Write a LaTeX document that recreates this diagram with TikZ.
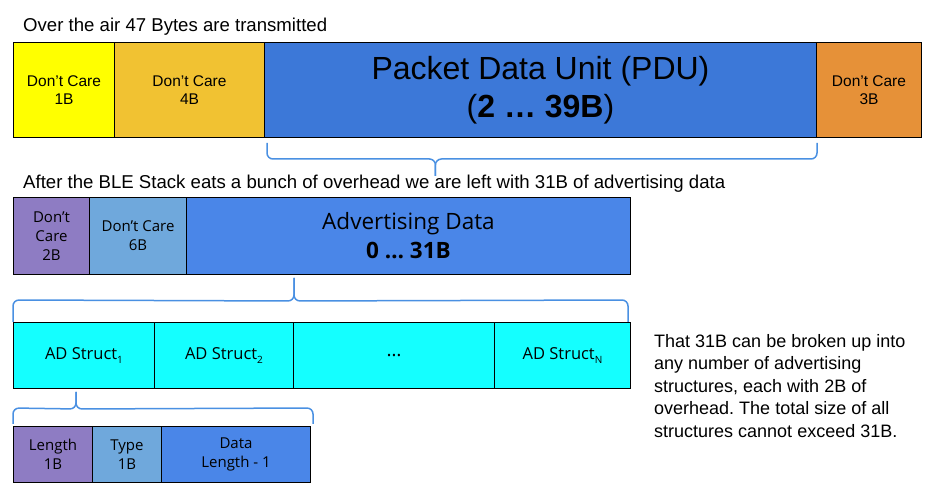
\documentclass[tikz,border=0pt]{standalone}
\usepackage{fontspec}
\setmainfont{Liberation Sans}
\newfontfamily\os{Open Sans}
\usetikzlibrary{calc}
\frenchspacing
\definecolor{cyel}{HTML}{FFFF00}
\definecolor{cgold}{HTML}{F1C232}
\definecolor{cpdu}{HTML}{3C78D8}
\definecolor{corange}{HTML}{E69138}
\definecolor{cpurple}{HTML}{8E7CC3}
\definecolor{clblue}{HTML}{6FA8DC}
\definecolor{cblue}{HTML}{4A86E8}
\definecolor{ccyan}{HTML}{14FFFF}
\definecolor{cbrace}{HTML}{4A90E2}
\newcommand{\fsz}[2]{\fontsize{#1}{#2}\selectfont}
\newcommand{\subn}[1]{\raisebox{-4.5pt}{\fsz{10}{10}#1}}
\tikzset{
  cell/.style={draw=black, line width=1pt, inner sep=0pt, anchor=north west, align=center, text=black},
  bracepath/.style={draw=cbrace, line width=1.5pt, rounded corners=6pt},
  caption/.style={inner sep=0pt, anchor=base west, text=black}
}
\begin{document}
\begin{tikzpicture}[x=1pt, y=-1pt]
\useasboundingbox (0,0) rectangle (930,494);
% captions
\node[caption, font=\fsz{18.6}{22}] (cap1) at (23,31.5) {Over the air 47 Bytes are transmitted};
\node[caption, font=\fsz{18.6}{22}] (cap2) at (23,189) {After the BLE Stack eats a bunch of overhead we are left with 31B of advertising data};
% row 1
\node[cell, fill=cyel, minimum width=101pt, minimum height=95pt, font=\fsz{15.5}{18}] (dc1) at (13,42) {Don’t Care\\1B};
\node[cell, fill=cgold, minimum width=150pt, minimum height=95pt, font=\fsz{15.5}{18}] (dc4) at (114,42) {Don’t Care\\4B};
\node[cell, fill=cpdu, minimum width=552pt, minimum height=95pt, font=\fsz{32}{38}] (pdu) at (264,42) {Packet Data Unit (PDU)\\(\textbf{2 … 39B})};
\node[cell, fill=corange, minimum width=105pt, minimum height=95pt, font=\fsz{15.5}{18}] (dc3) at (816,42) {Don’t Care\\3B};
% row 2
\node[cell, fill=cpurple, minimum width=76pt, minimum height=77pt, font=\os\fsz{15}{19}] (dc2) at (13,197) {Don’t\\Care\\2B};
\node[cell, fill=clblue, minimum width=97pt, minimum height=77pt, font=\os\fsz{15}{19}] (dc6) at (89,197) {Don’t Care\\6B};
\node[cell, fill=cblue, minimum width=444pt, minimum height=77pt, font=\os\fsz{22.5}{29}] (adv) at (186,197) {Advertising Data\\\textbf{0 … 31B}};
% row 3
\node[cell, fill=ccyan, minimum width=141pt, minimum height=66pt, font=\os\fsz{16.5}{20}] (s1) at (13,322) {AD Struct\subn{1}};
\node[cell, fill=ccyan, minimum width=139pt, minimum height=66pt, font=\os\fsz{16.5}{20}] (s2) at (154,322) {AD Struct\subn{2}};
\node[cell, fill=ccyan, minimum width=201pt, minimum height=66pt, font=\os\fsz{19}{20}] (sd) at (293,322) {\raisebox{-3pt}{…}};
\node[cell, fill=ccyan, minimum width=136pt, minimum height=66pt, font=\os\fsz{16.5}{20}] (sn) at (494,322) {AD Struct\subn{N}};
% row 4
\node[cell, fill=cpurple, minimum width=79pt, minimum height=56pt, font=\os\fsz{15}{19}] (len) at (13,426) {Length\\1B};
\node[cell, fill=clblue, minimum width=69pt, minimum height=56pt, font=\os\fsz{15}{19}] (typ) at (92,426) {Type\\1B};
\node[cell, fill=cblue, minimum width=149pt, minimum height=56pt, font=\os\fsz{15}{19}] (dat) at (161,426) {Data\\Length - 1};
% note
\node[inner sep=0pt, anchor=north west, align=left, font=\fsz{18}{22.5}] (note) at (654,334)
  {That 31B can be broken up into\\any number of advertising\\structures, each with 2B of\\overhead. The total size of all\\structures cannot exceed 31B.};
% brace 1 (under PDU)
\coordinate (b1l) at ($(pdu.south west)+(3,5)$);
\coordinate (b1r) at ($(pdu.south east)+(0,5)$);
\coordinate (b1t) at ($(pdu.south west)!0.31!(pdu.south east)+(0,38)$);
\draw[bracepath] (b1l) -- ($(b1l)+(0,16)$) -- ($(b1t)+(0,-17)$) -- (b1t);
\draw[bracepath] (b1r) -- ($(b1r)+(0,16)$) -- ($(b1t)+(0,-17)$) -- (b1t);
% brace 2 (adv -> structs)
\coordinate (b2l) at (s1.north west);
\coordinate (b2r) at ($(sn.north east)+(-3,0)$);
\coordinate (b2t) at ($(adv.south west)+(108,3)$);
\draw[bracepath] (b2l) -- ($(b2l)+(0,-22)$) -- ($(b2t)+(0,23)$) -- (b2t);
\draw[bracepath] (b2r) -- ($(b2r)+(0,-22)$) -- ($(b2t)+(0,23)$) -- (b2t);
% brace 3 (struct1 -> fields)
\coordinate (b3l) at ($(len.north west)+(0,-2)$);
\coordinate (b3r) at ($(dat.north east)+(2,-2)$);
\coordinate (b3t) at ($(s1.south west)+(63,3)$);
\draw[bracepath] (b3l) -- ($(b3l)+(0,-16)$) -- ($(b3t)+(0,17)$) -- (b3t);
\draw[bracepath] (b3r) -- ($(b3r)+(0,-16)$) -- ($(b3t)+(0,17)$) -- (b3t);
\end{tikzpicture}
\end{document}
